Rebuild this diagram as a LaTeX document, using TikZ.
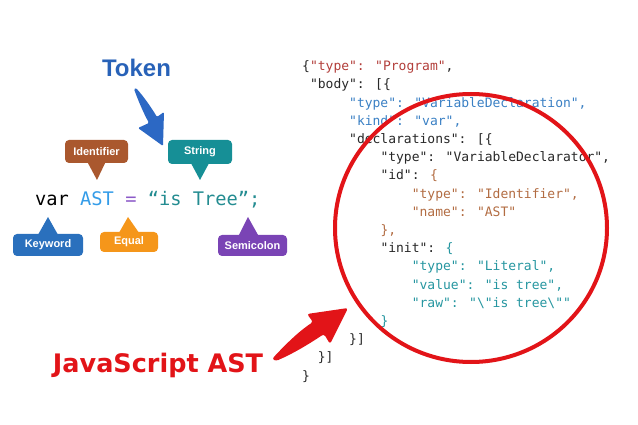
\documentclass[tikz,border=0pt]{standalone}
\usepackage{fontspec}
\setmainfont{Liberation Sans}
\newfontfamily\codefont{DejaVu Sans Mono}
\newfontfamily\jsfont{DejaVu Sans}
\definecolor{cred}{RGB}{178,62,58}
\definecolor{cblue}{RGB}{58,128,196}
\definecolor{cbrown}{RGB}{178,108,66}
\definecolor{cteal}{RGB}{38,150,160}
\definecolor{cblack}{RGB}{40,40,40}
\definecolor{astblue}{RGB}{52,156,232}
\definecolor{eqpurple}{RGB}{140,90,200}
\definecolor{strteal}{RGB}{36,140,145}
\definecolor{idbrown}{RGB}{170,88,46}
\definecolor{stteal}{RGB}{22,143,150}
\definecolor{kwblue}{RGB}{42,112,189}
\definecolor{eqorange}{RGB}{245,150,26}
\definecolor{scpurple}{RGB}{122,68,181}
\definecolor{tokblue}{RGB}{40,98,184}
\definecolor{arrblue}{RGB}{44,104,196}
\definecolor{jsred}{RGB}{226,20,24}
\tikzset{
  codeline/.style={font=\codefont\fontsize{13}{13}\selectfont, anchor=base west, inner sep=0pt, text=cblack},
  tag/.style={rounded corners=4pt, text=white, font=\bfseries\fontsize{11}{11}\selectfont, inner sep=0pt, anchor=center},
}
\begin{document}
\begin{tikzpicture}[x=1pt,y=-1pt]
\useasboundingbox (0,0) rectangle (638,425);
% ---------- left: token example ----------
\node[font=\bfseries\fontsize{24}{24}\selectfont, text=tokblue, anchor=base, inner sep=0pt] (tok) at (136.5,77) {Token};
\fill[arrblue, rounded corners=1.2pt] (134,89) .. controls (138,100) and (143,112) .. (149,123) -- (138,128) -- (163,146) -- (164,112) -- (157,117) .. controls (151,107) and (144,97) .. (136,88) -- cycle;

\node[anchor=base west, inner sep=0pt, font=\codefont\fontsize{18.7}{18.7}\selectfont, text=black] (decl) at (35,206)
  {var \textcolor{astblue}{AST} \textcolor{eqpurple}{=} \textcolor{strteal}{“is Tree”;}};

\node[tag, fill=idbrown, minimum width=63pt, minimum height=23pt] (idf) at (96.5,151.5) {Identifier};
\coordinate (idtip) at (97,180);
\fill[idbrown] ([xshift=-9pt,yshift=1pt]idf.south) -- (idtip) -- ([xshift=9pt,yshift=1pt]idf.south) -- cycle;

\node[tag, fill=stteal, minimum width=64pt, minimum height=24pt] (str) at (200,152) {String};
\coordinate (sttip) at (200,180);
\fill[stteal] ([xshift=-9pt,yshift=1pt]str.south) -- (sttip) -- ([xshift=9pt,yshift=1pt]str.south) -- cycle;

\node[tag, fill=kwblue, minimum width=70pt, minimum height=22pt] (kw) at (48,245) {Keyword};
\coordinate (kwtip) at (48,217);
\fill[kwblue] ([xshift=-10pt,yshift=-1pt]kw.north) -- (kwtip) -- ([xshift=10pt,yshift=-1pt]kw.north) -- cycle;

\node[tag, fill=eqorange, minimum width=58pt, minimum height=20pt] (eq) at (129,242) {Equal};
\coordinate (eqtip) at (128,217);
\fill[eqorange] ([xshift=-10pt,yshift=-1pt]eq.north) -- (eqtip) -- ([xshift=10pt,yshift=-1pt]eq.north) -- cycle;

\node[tag, fill=scpurple, minimum width=69pt, minimum height=21pt] (sc) at (252.5,245.5) {Semicolon};
\coordinate (sctip) at (248,217);
\fill[scpurple] ([xshift=-14pt,yshift=-1pt]sc.north) -- (sctip) -- ([xshift=6pt,yshift=-1pt]sc.north) -- cycle;

% ---------- right: AST json ----------
\node[codeline] (l1)  at (302+0*7.83, 70.7+18.2*0)  {\{\textcolor{cred}{"type": "Program"},};
\node[codeline] (l2)  at (302+1*7.83, 70.7+18.2*1)  {"body": [\{};
\node[codeline, text=cblue] (l3)  at (302+6*7.83, 70.7+18.2*2)  {"type": "VariableDeclaration",};
\node[codeline, text=cblue] (l4)  at (302+6*7.83, 70.7+18.2*3)  {"kind": "var",};
\node[codeline] (l5)  at (302+6*7.83, 70.7+18.2*4)  {"declarations": [\{};
\node[codeline] (l6)  at (302+10*7.83, 70.7+18.2*5) {"type": "VariableDeclarator",};
\node[codeline] (l7)  at (302+10*7.83, 70.7+18.2*6) {"id": \textcolor{cbrown}{\{}};
\node[codeline, text=cbrown] (l8)  at (302+14*7.83, 70.7+18.2*7) {"type": "Identifier",};
\node[codeline, text=cbrown] (l9)  at (302+14*7.83, 70.7+18.2*8) {"name": "AST"};
\node[codeline, text=cbrown] (l10) at (302+10*7.83, 70.7+18.2*9) {\},};
\node[codeline] (l11) at (302+10*7.83, 70.7+18.2*10) {"init": \textcolor{cteal}{\{}};
\node[codeline, text=cteal] (l12) at (302+14*7.83, 70.7+18.2*11) {"type": "Literal",};
\node[codeline, text=cteal] (l13) at (302+14*7.83, 70.7+18.2*12) {"value": "is tree",};
\node[codeline, text=cteal] (l14) at (302+14*7.83, 70.7+18.2*13) {"raw": "\textbackslash"is tree\textbackslash""};
\node[codeline, text=cteal] (l15) at (302+10*7.83, 70.7+18.2*14) {\}};
\node[codeline] (l16) at (302+6*7.83, 70.7+18.2*15) {\}]};
\node[codeline] (l17) at (302+2*7.83, 70.7+18.2*16) {\}]};
\node[codeline] (l18) at (302+0*7.83, 70.7+18.2*17) {\}};

% red circle
\draw[jsred, line width=4pt] (471,228) ellipse [x radius=136pt, y radius=134pt];

% JavaScript AST label and arrow
\node[font=\jsfont\bfseries\fontsize{25.5}{25.5}\selectfont, text=jsred, anchor=base, inner sep=0pt] (js) at (158,372) {JavaScript AST};
\fill[jsred, rounded corners=2.5pt] (272,359) .. controls (285,345) and (298,332) .. (313,322) -- (307,314) -- (348,308) -- (330,344) -- (324,334) .. controls (306,346) and (292,354) .. (276,361) -- cycle;
\end{tikzpicture}
\end{document}
